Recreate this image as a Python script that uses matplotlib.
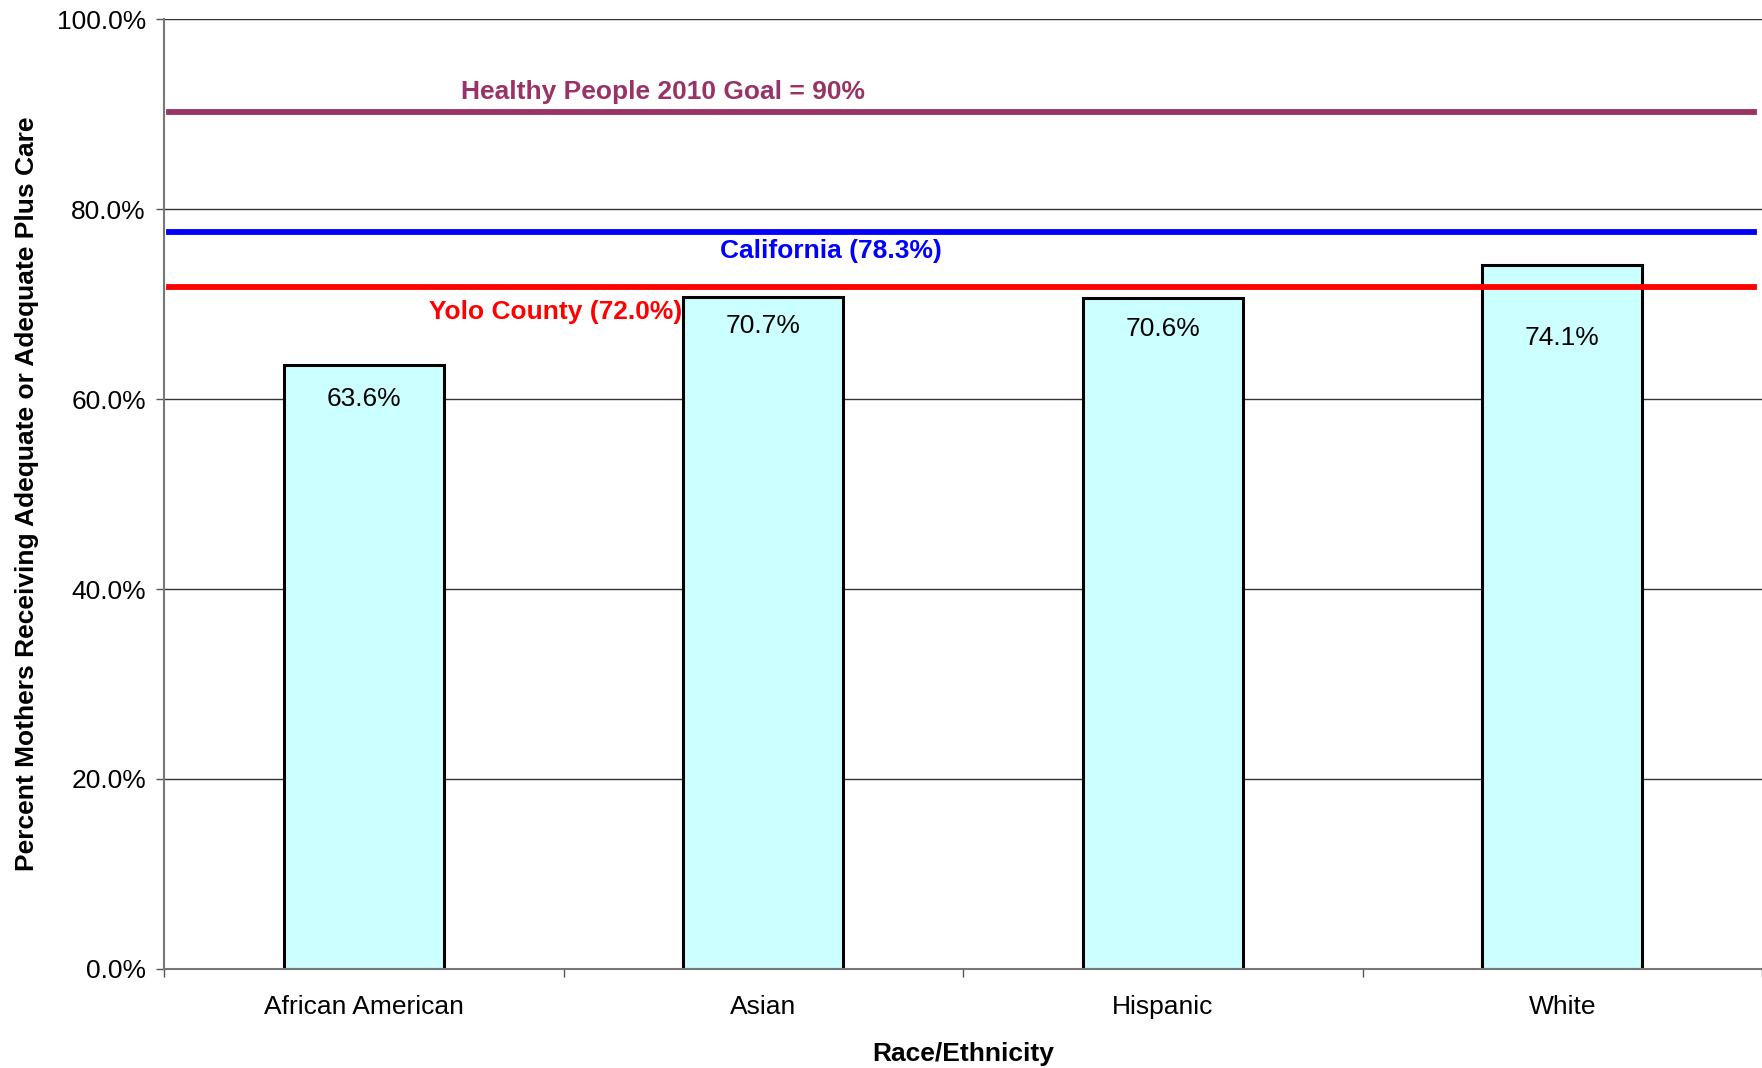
import matplotlib.pyplot as plt

plt.rcParams['font.family'] = ['Liberation Sans', 'DejaVu Sans']

# data
categories = ['African American', 'Asian', 'Hispanic', 'White']
values = [63.6, 70.7, 70.6, 74.1]
bar_labels = ['63.6%', '70.7%', '70.6%', '74.1%']

ref_levels = [90.2, 77.6, 71.8]
ref_labels = ['Healthy People 2010 Goal = 90%', 'California (78.3%)', 'Yolo County (72.0%)']
ref_colors = ['#993366', '#0000FF', '#FF0000']

FS = 19

fig = plt.figure(figsize=(17.62, 10.68), dpi=100)
ax = fig.add_axes([0.0931, 0.0927, 0.9069, 0.8895])

x = list(range(len(categories)))
ax.bar(x, values, width=0.4, color='#CCFFFF', edgecolor='black', linewidth=2.2, zorder=2)

# value labels inside bars (pixel offsets below top)
offsets = [34, 29, 31, 73]
for xi, v, lab, off in zip(x, values, bar_labels, offsets):
    ax.annotate(lab, (xi, v), xytext=(0, -off), textcoords='offset pixels',
                ha='center', va='center', fontsize=FS, zorder=4)

# reference lines
for lvl, c in zip(ref_levels, ref_colors):
    ax.axhline(lvl, xmin=0.003, xmax=0.995, color=c, linewidth=4.2, zorder=3)

ref_pos = [(0.75, 92.3), (1.17, 75.6), (0.48, 69.2)]
for (tx, ty), lab, c in zip(ref_pos, ref_labels, ref_colors):
    ax.text(tx, ty, lab, color=c, fontsize=FS, fontweight='bold',
            ha='center', va='center', zorder=4)

ax.set_xlim(-0.5, 3.5)
ax.set_ylim(0, 100)
ax.set_yticks([0, 20, 40, 60, 80, 100])
ax.set_yticklabels(['0.0%', '20.0%', '40.0%', '60.0%', '80.0%', '100.0%'], fontsize=FS)
ax.tick_params(axis='y', length=6, width=1, color='#555555', pad=7)

ax.set_xticks(x)
ax.set_xticklabels(categories, fontsize=FS)
ax.set_xticks([-0.5, 0.5, 1.5, 2.5, 3.5], minor=True)
ax.tick_params(axis='x', which='major', length=0, pad=19)
ax.tick_params(axis='x', which='minor', length=6, width=1, color='#555555')

ax.grid(axis='y', color='#333333', linewidth=1, zorder=0)
ax.set_axisbelow(True)

for s in ['top', 'right']:
    ax.spines[s].set_visible(False)
ax.spines['left'].set_color('#777777')
ax.spines['bottom'].set_color('#777777')
ax.spines['left'].set_linewidth(1.5)
ax.spines['bottom'].set_linewidth(1.5)

ax.set_xlabel('Race/Ethnicity', fontsize=FS, fontweight='bold', labelpad=16)
ax.set_ylabel('Percent Mothers Receiving Adequate or Adequate Plus Care',
              fontsize=FS, fontweight='bold', labelpad=13)

fig.savefig('out.png', dpi=100)
